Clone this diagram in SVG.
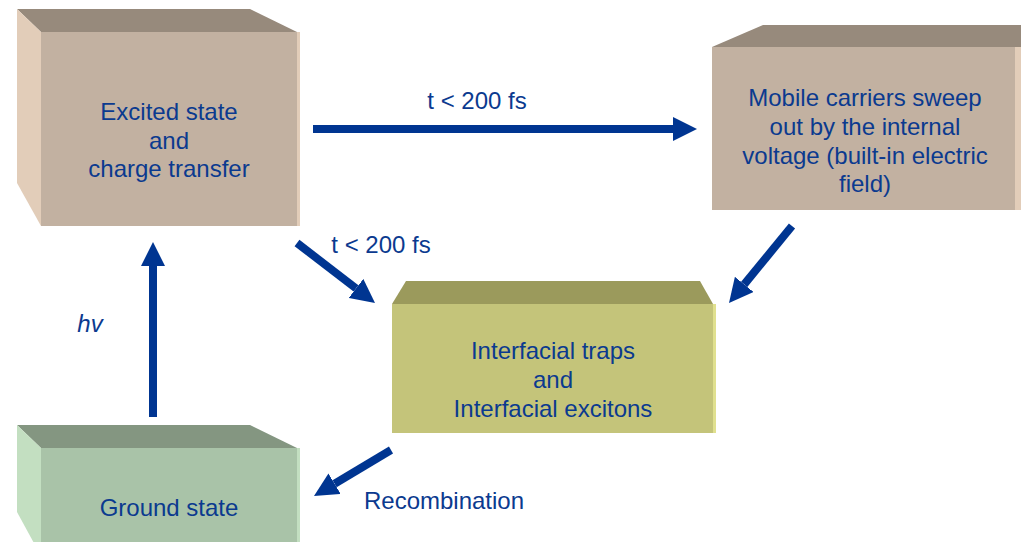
<svg xmlns="http://www.w3.org/2000/svg" width="1021" height="542" viewBox="0 0 1021 542">
<defs>
<style>
text{font-family:"Liberation Sans",Arial,sans-serif;font-size:24px;fill:#0b3a8f;text-anchor:middle}
.arr{stroke:#003591;stroke-width:8;fill:none}
.bf{fill:#c2b1a1}.bt{fill:#978a7c}.bs{fill:#e2cdb9}
.gf{fill:#c4c47a}.gt{fill:#9b9a5c}.gs{fill:#e0e08f}
.nf{fill:#a9c3a8}.nt{fill:#849681}.ns{fill:#c3dfc1}
</style>
<marker id="ah" viewBox="0 0 24 24" refX="0" refY="12" markerWidth="24" markerHeight="24" markerUnits="userSpaceOnUse" orient="auto">
<path d="M0,0 L24,12 L0,24 z" fill="#003591"/>
</marker>
</defs>
<rect width="1021" height="542" fill="#ffffff"/>
<g id="excited">
<polygon class="bt" points="17,9 250,9 297,32 41,32"/>
<polygon class="bs" points="17,9 41,32 41,226 17,183"/>
<rect class="bf" x="41" y="32" width="256" height="194"/>
<rect class="bs" x="297" y="32" width="3" height="194"/>
<text x="169" y="120">Excited state</text>
<text x="169" y="149">and</text>
<text x="169" y="177">charge transfer</text>
</g>
<g id="mobile">
<polygon class="bt" points="712,47 763,25 1021,25 1021,47"/>
<rect class="bf" x="712" y="47" width="303" height="163"/>
<rect class="bs" x="1015" y="47" width="6" height="163"/>
<text x="865" y="106">Mobile carriers sweep</text>
<text x="865" y="135">out by the internal</text>
<text x="865" y="164">voltage (built-in electric</text>
<text x="865" y="192">field)</text>
</g>
<g id="interfacial">
<polygon class="gt" points="392,304 406,281 700,281 713,304"/>
<rect class="gf" x="392" y="304" width="321" height="129"/>
<rect class="gs" x="713" y="304" width="3" height="129"/>
<text x="553" y="359">Interfacial traps</text>
<text x="553" y="388">and</text>
<text x="553" y="417">Interfacial excitons</text>
</g>
<g id="ground">
<polygon class="nt" points="17,425 250,425 297,448 41,448"/>
<polygon class="ns" points="17,425 41,448 41,556 17,512"/>
<rect class="nf" x="41" y="448" width="256" height="94"/>
<rect class="ns" x="297" y="448" width="3" height="94"/>
<text x="169" y="516">Ground state</text>
</g>
<g id="connectors">
<line class="arr" x1="313" y1="129" x2="673" y2="129" marker-end="url(#ah)"/>
<line class="arr" x1="153" y1="417" x2="153" y2="266" marker-end="url(#ah)"/>
<line class="arr" x1="297" y1="243" x2="356" y2="288.4" marker-end="url(#ah)"/>
<line class="arr" x1="792" y1="226" x2="744.2" y2="284.4" marker-end="url(#ah)"/>
<line class="arr" x1="391" y1="450" x2="334.6" y2="483.7" marker-end="url(#ah)"/>
<text x="477" y="109">t &lt; 200 fs</text>
<text x="381" y="253">t &lt; 200 fs</text>
<text x="90" y="332" font-style="italic">hv</text>
<text x="444" y="509">Recombination</text>
</g>
</svg>
